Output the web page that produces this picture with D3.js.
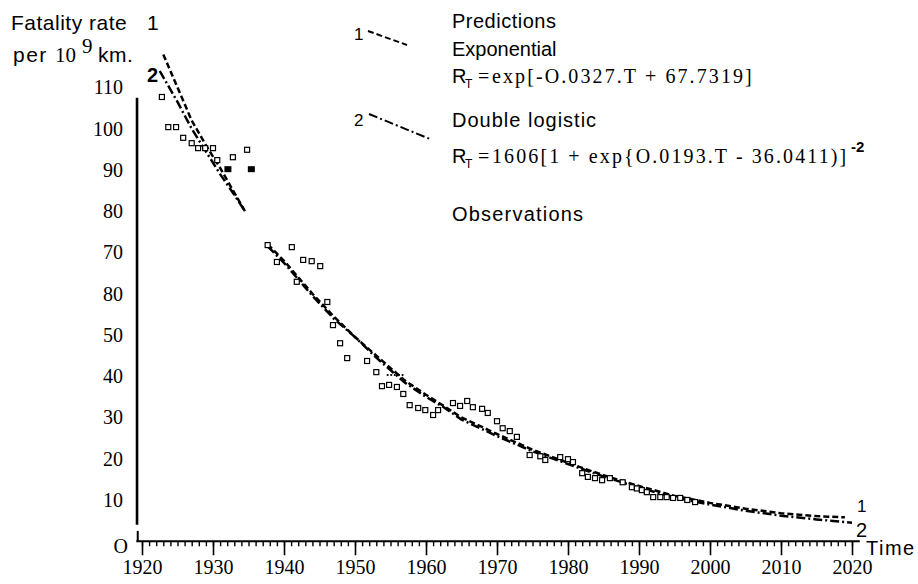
<!DOCTYPE html>
<html>
<head>
<meta charset="utf-8">
<script src="https://cdn.jsdelivr.net/npm/d3@7"></script>
<style>
  body { margin: 0; background: #fff; }
  svg { display: block; }
  .sans { font-family: "Liberation Sans", Arial, sans-serif; }
  .serif { font-family: "Liberation Serif", "Times New Roman", serif; }
</style>
</head>
<body>
<div id="chart"></div>
<script>
// fatality rate per 10^9 km
// curve 1: exponential prediction (null = gap in the scan)
const expYears = [1923, 1925, 1927, 1929, 1931, 1933, 1934.5, 1936, 1937.7, 1940, 1942, 1944, 1947, 1950, 1953, 1957, 1960, 1962.5, 1965, 1970, 1975, 1980, 1985, 1990, 1995, 2000, 2005, 2010, 2015, 2019];
const expRate  = [118, 110, 102, 96, 90.5, 84.5, 80, null, 72, 68, 64, 60, 54.5, 49.5, 45, 39, 35.5, 32.8, 30, 26, 22.2, 19, 16, 13.4, 11, 9.3, 7.9, 6.8, 6.1, 5.8];
// curve 2: double logistic prediction
const dlogYears = [1922.5, 1925, 1927, 1929, 1931, 1933, 1934.5, 1936, 1937.7, 1940, 1942, 1944, 1947, 1950, 1953, 1957, 1960, 1962.5, 1965, 1970, 1975, 1980, 1985, 1990, 1995, 2000, 2005, 2010, 2015, 2020];
const dlogRate  = [114, 106.5, 100, 94.5, 89, 84, 80, null, 71.5, 67.5, 63.5, 59.5, 54, 49.5, 44.5, 38.5, 35, 32.5, 29.5, 25.5, 21.8, 18.7, 15.7, 13, 10.6, 8.9, 7.4, 6.2, 5.3, 4.5];

// observations
const obsYears = [1922.8, 1923.7, 1924.8, 1925.8, 1927.0, 1927.9, 1928.9, 1930.0, 1930.6, 1932.8, 1934.8,
  1937.7, 1939.0, 1941.1, 1942.7, 1943.9, 1945.1, 1941.8, 1946.1, 1946.9, 1947.9, 1948.9,
  1951.7, 1953.0, 1953.8, 1954.8, 1955.9, 1956.8, 1957.7, 1958.9, 1959.9, 1961.0, 1961.7,
  1963.8, 1964.8, 1965.8, 1966.6, 1967.9, 1968.7, 1970.0, 1970.8, 1971.8, 1972.8,
  1974.6, 1976.1, 1976.8, 1978.9, 1980.0, 1980.7, 1982.0, 1982.8, 1983.8, 1984.8, 1985.9,
  1987.7, 1989.0, 1989.7, 1990.4, 1991.1, 1992.0, 1993.0, 1993.9, 1994.8, 1995.8, 1996.8, 1997.9];
const obsRate = [107.7, 100.4, 100.4, 97.8, 96.5, 95.3, 95.3, 95.3, 92.4, 93.1, 94.9,
  71.8, 67.7, 71.3, 68.2, 67.9, 66.7, 62.9, 58.0, 52.4, 48.0, 44.4,
  43.7, 41.0, 37.6, 37.9, 37.4, 35.7, 33.0, 32.3, 31.8, 30.6, 31.8,
  33.5, 32.8, 34.0, 32.5, 32.1, 31.1, 29.1, 27.4, 26.7, 25.3,
  20.9, 20.6, 19.7, 20.4, 19.9, 19.2, 16.5, 15.6, 15.3, 14.8, 15.3,
  14.3, 13.1, 12.8, 12.4, 11.9, 10.7, 10.7, 10.7, 10.5, 10.5, 10.0, 9.5];
const solidYears = [1932.1, 1935.4];
const solidRate = [90.2, 90.2];
const dotYears = [1954.6, 1955.1, 1955.6, 1956.2, 1956.7];
const dotRate = [40.3, 40.3, 40.3, 40.3, 40.3];

// axes (the 60 label reads "80" in the original)
const yTicks = [110, 100, 90, 80, 70, 60, 50, 40, 30, 20, 10];
const yTickLabels = ["110", "100", "90", "80", "70", "80", "50", "40", "30", "20", "10"];
const xTicks = [1920, 1930, 1940, 1950, 1960, 1970, 1980, 1990, 2000, 2010, 2020];
const xMinor = d3.range(1920, 2021);

const width = 918, height = 584;

const svg = d3.select("#chart").append("svg")
  .attr("width", width)
  .attr("height", height);

svg.append("rect").attr("width", width).attr("height", height).attr("fill", "#fff");

const x = d3.scaleLinear().domain([1920, 2020]).range([142, 852]);
const y = d3.scaleLinear().domain([0, 110]).range([541.25, 87.5]);

// y axis: labels only, line drawn by hand (broken near the bottom)
const gy = svg.append("g")
  .attr("transform", `translate(${x(1919.3)},0)`)
  .call(d3.axisLeft(y).tickValues(yTicks).tickFormat((d, i) => yTickLabels[i]).tickSize(0).tickPadding(14));
gy.select(".domain").remove();
gy.selectAll("text").attr("class", "serif").style("font-size", "20px").attr("fill", "#000");

svg.append("line")
  .attr("x1", x(1919.3)).attr("x2", x(1919.3))
  .attr("y1", y(107.5)).attr("y2", y(4))
  .attr("stroke", "#000").attr("stroke-width", 2.6);
svg.append("line")
  .attr("x1", x(1919.4)).attr("x2", x(1919.4))
  .attr("y1", y(2.5)).attr("y2", y(0))
  .attr("stroke", "#000").attr("stroke-width", 2);

svg.append("text").attr("class", "serif")
  .attr("x", 128).attr("y", 553)
  .attr("text-anchor", "end")
  .style("font-size", "20px")
  .text("O");

// x axis: minor yearly ticks + decade ticks
const gxMinor = svg.append("g")
  .attr("transform", `translate(0,${y(0)})`)
  .call(d3.axisBottom(x).tickValues(xMinor).tickSize(5).tickFormat(""));
gxMinor.select(".domain").remove();
gxMinor.selectAll("line").attr("stroke-width", 1.4);

const gx = svg.append("g")
  .attr("transform", `translate(0,${y(0)})`)
  .call(d3.axisBottom(x).tickValues(xTicks).tickSize(14).tickPadding(5).tickFormat(d3.format("d")));
gx.select(".domain").remove();
gx.selectAll("line").attr("stroke-width", 1.6);
gx.selectAll("text").attr("class", "serif").style("font-size", "20px").attr("fill", "#000");

svg.append("line")
  .attr("x1", x(1919.2)).attr("x2", x(2021.1))
  .attr("y1", y(0)).attr("y2", y(0))
  .attr("stroke", "#000").attr("stroke-width", 2);

svg.append("text").attr("class", "sans")
  .attr("x", 866).attr("y", 555)
  .style("font-size", "20px")
  .style("letter-spacing", "1.5px")
  .text("Time");

// prediction curves
const line = d3.line()
  .defined(d => d[1] != null)
  .x(d => x(d[0]))
  .y(d => y(d[1]));

svg.append("path")
  .datum(expYears.map((t, i) => [t, expRate[i]]))
  .attr("d", line)
  .attr("fill", "none")
  .attr("stroke", "#000")
  .attr("stroke-width", 2.5)
  .attr("stroke-dasharray", "6,3");

svg.append("path")
  .datum(dlogYears.map((t, i) => [t, dlogRate[i]]))
  .attr("d", line)
  .attr("fill", "none")
  .attr("stroke", "#000")
  .attr("stroke-width", 2.5)
  .attr("stroke-dasharray", "9,3,2,3");

// observations
svg.append("g").selectAll("rect")
  .data(obsYears.map((t, i) => [t, obsRate[i]]))
  .join("rect")
  .attr("x", d => x(d[0]) - 2.5)
  .attr("y", d => y(d[1]) - 2.5)
  .attr("width", 5)
  .attr("height", 5)
  .attr("fill", "#fff")
  .attr("stroke", "#000")
  .attr("stroke-width", 1.2);

svg.append("g").selectAll("rect")
  .data(solidYears.map((t, i) => [t, solidRate[i]]))
  .join("rect")
  .attr("x", d => x(d[0]) - 3.5)
  .attr("y", d => y(d[1]) - 3)
  .attr("width", 7)
  .attr("height", 6)
  .attr("fill", "#000");

svg.append("g").selectAll("circle")
  .data(dotYears.map((t, i) => [t, dotRate[i]]))
  .join("circle")
  .attr("cx", d => x(d[0]))
  .attr("cy", d => y(d[1]))
  .attr("r", 1.1)
  .attr("fill", "#000");

// curve labels
svg.append("text").attr("class", "sans")
  .attr("x", 147).attr("y", 82)
  .style("font-size", "20px").style("font-weight", "bold")
  .text("2");
svg.append("text").attr("class", "sans")
  .attr("x", 857).attr("y", 512)
  .style("font-size", "17px")
  .text("1");
svg.append("text").attr("class", "sans")
  .attr("x", 856).attr("y", 537)
  .style("font-size", "20px")
  .text("2");

// y axis title
svg.append("text").attr("class", "sans")
  .attr("x", 11).attr("y", 30)
  .style("font-size", "21px")
  .style("letter-spacing", "0.5px")
  .text("Fatality rate");
svg.append("text").attr("class", "sans")
  .attr("x", 147).attr("y", 30)
  .style("font-size", "21px")
  .text("1");

const unit = svg.append("text").attr("y", 62).style("font-size", "21px");
unit.append("tspan").attr("class", "sans").attr("x", 13).style("letter-spacing", "1.5px").text("per");
unit.append("tspan").attr("class", "serif").attr("x", 55).text("10");
unit.append("tspan").attr("class", "serif").attr("x", 82).attr("dy", -9).text("9");
unit.append("tspan").attr("class", "sans").attr("x", 98).attr("dy", 9).style("letter-spacing", "0.5px").text("km.");

// legend
const lx = 452;
const legend = svg.append("g").attr("class", "legend");

legend.append("text").attr("class", "sans")
  .attr("x", lx).attr("y", 28).style("font-size", "20px")
  .style("letter-spacing", "0.5px").text("Predictions");
legend.append("text").attr("class", "sans")
  .attr("x", 354).attr("y", 40).style("font-size", "17px").text("1");
legend.append("line")
  .attr("x1", 368).attr("y1", 31).attr("x2", 407).attr("y2", 45)
  .attr("stroke", "#000").attr("stroke-width", 2).attr("stroke-dasharray", "6,3");
legend.append("text").attr("class", "sans")
  .attr("x", lx).attr("y", 56).style("font-size", "20px").text("Exponential");

function formula(yPos, body, endX, sup) {
  const t = legend.append("text").attr("y", yPos).style("font-size", "20px");
  t.append("tspan").attr("class", "sans").attr("x", lx).text("R");
  t.append("tspan").attr("class", "sans").attr("x", lx + 13).attr("dy", 5).style("font-size", "12px").text("T");
  t.append("tspan").attr("class", "serif").attr("x", lx + 26).attr("dy", -5).text("=");
  t.append("tspan").attr("class", "serif").attr("x", lx + 40)
    .style("letter-spacing", "2.1px").text(body);
  if (sup) {
    t.append("tspan").attr("class", "sans").attr("x", endX).attr("dy", -11)
      .style("font-size", "15px").style("font-weight", "bold").text(sup);
  }
}
formula(83, "exp[-O.0327.T + 67.7319]");

legend.append("text").attr("class", "sans")
  .attr("x", 354).attr("y", 126).style("font-size", "17px").text("2");
legend.append("line")
  .attr("x1", 369).attr("y1", 114).attr("x2", 430).attr("y2", 139)
  .attr("stroke", "#000").attr("stroke-width", 2).attr("stroke-dasharray", "9,3,2,3");
legend.append("text").attr("class", "sans")
  .attr("x", lx).attr("y", 127).style("font-size", "20px")
  .style("letter-spacing", "1px").text("Double logistic");
formula(163, "1606[1 + exp{O.0193.T - 36.0411)]", 851, "-2");

legend.append("text").attr("class", "sans")
  .attr("x", lx).attr("y", 221).style("font-size", "20px")
  .style("letter-spacing", "1.2px").text("Observations");
</script>
</body>
</html>
